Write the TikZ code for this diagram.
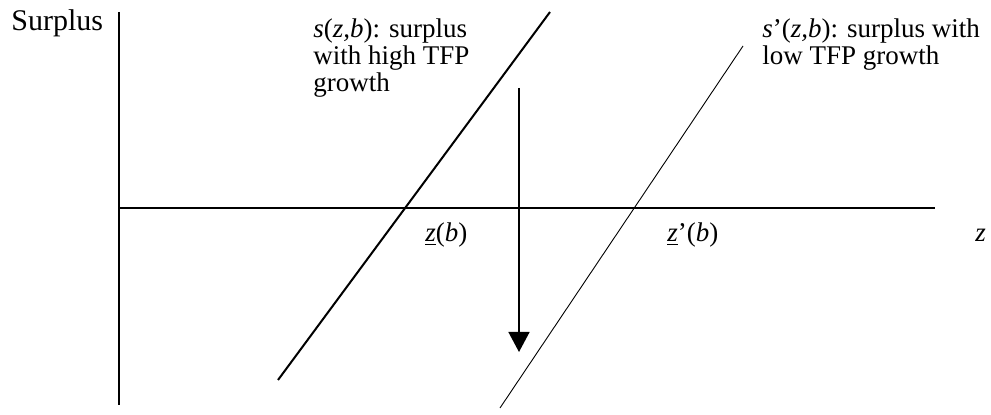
\documentclass[tikz,border=0pt]{standalone}
\usepackage{fontspec}
\setmainfont{Liberation Serif}
\usepackage{tikz}
\usetikzlibrary{arrows.meta,positioning}

\begin{document}
\begin{tikzpicture}[x=0.5pt, y=-0.5pt,
    axis/.style={draw=black, line width=0.75pt},
    curve/.style={draw=black, line width=1pt},
    thincurve/.style={draw=black, line width=0.45pt},
    droparrow/.style={draw=black, line width=0.75pt,
                  -{Triangle[length=10pt, width=10.5pt]}},
    lbl/.style={inner sep=0pt, font=\fontsize{13.5}{13.5}\selectfont, align=left},
]
\useasboundingbox (0,0) rectangle (991,415);

% axes
\coordinate (ytop) at (119,12);
\coordinate (ybot) at (119,405);
\coordinate (xleft) at (119,208);
\coordinate (xright) at (935,208);
\draw[axis] (ytop) -- (ybot);
\draw[axis] (xleft) -- (xright);

% surplus lines
\coordinate (shi0) at (278,380);
\coordinate (shi1) at (550,12);
\coordinate (slo0) at (500,408);
\coordinate (slo1) at (743,46);
\draw[curve] (shi0) -- (shi1);
\draw[thincurve] (slo0) -- (slo1);

% downward shift
\coordinate (arrtop) at (519,88);
\coordinate (arrbot) at (519,352);
\draw[droparrow] (arrtop) -- (arrbot);

% labels
\node[lbl, font=\fontsize{15}{15}\selectfont, anchor=base west] (ylabel) at (11,31) {Surplus};
\node[lbl, anchor=north west] (hilabel) at (313,18)
    {\textit{s}(\textit{z,b}): surplus\\with high TFP\\growth};
\node[lbl, anchor=north west] (lolabel) at (762,18)
    {\textit{s}’(\textit{z,b}): surplus with\\low TFP growth};
\node[lbl, anchor=base west] (zhi) at (425,242) {\underline{\textit{z}}(\textit{b})};
\node[lbl, anchor=base west] (zlo) at (667,242) {\underline{\textit{z}}’(\textit{b})};
\node[lbl, anchor=base west] (xlabel) at (975,242) {\textit{z}};

\end{tikzpicture}
\end{document}
